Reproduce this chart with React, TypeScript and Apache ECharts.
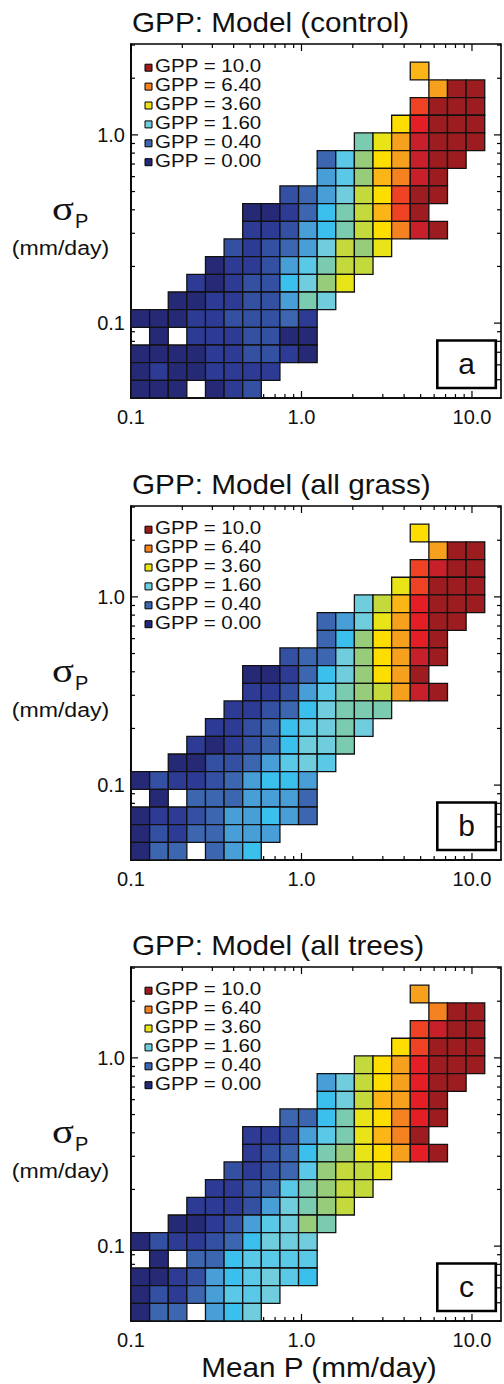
import React, { useEffect, useRef } from 'react';
import * as echarts from 'echarts';

// ---------- data ----------
const TITLES = ['GPP: Model (control)', 'GPP: Model (all grass)', 'GPP: Model (all trees)'];
const TAGS = ['a', 'b', 'c'];

// bin edges of mean P (mm/day) and sigma_P (mm/day)
const X_EDGES = [0.1, 0.1286, 0.1654, 0.2126, 0.2734, 0.3516, 0.452, 0.5812, 0.7474, 0.9612, 1.236, 1.589, 2.043, 2.628, 3.379, 4.345, 5.587, 7.184, 9.239, 11.88];
const Y_EDGES = [0.04, 0.04965, 0.06163, 0.0765, 0.09497, 0.1179, 0.1463, 0.1816, 0.2255, 0.2799, 0.3475, 0.4313, 0.5354, 0.6646, 0.8251, 1.0245, 1.2718, 1.5787, 1.9597, 2.4328];

// GPP value of each colour class (class code 0-9, a-j)
const GPP_CLASS_VALUES = [0.0, 0.06, 0.17, 0.34, 0.56, 0.84, 1.17, 1.56, 2.0, 2.5, 3.05, 3.66, 4.33, 5.05, 5.82, 6.66, 7.54, 8.48, 9.48, 10.0];

// rows from top (largest sigma_P) to bottom, columns from P = 0.1 upward; '.' = no data
const GPP_CONTROL = [
  '...............d...',
  '................ejj',
  '...............gjjj',
  '..............chjjj',
  '............8beijjj',
  '..........369ceijj.',
  '..........469dfij..',
  '........2347acgjj..',
  '......001358adgj...',
  '......112458acfij..',
  '.....212347a9b.....',
  '....0112468aa......',
  '...10122579b.......',
  '..001122487........',
  '0001122231.........',
  '.0.1112200.........',
  '0000112210.........',
  '01001111...........',
  '000.012............',
];
const GPP_ALL_GRASS = [
  '...............c...',
  '................ejj',
  '...............gijj',
  '..............bgjjj',
  '............7adhjjj',
  '..........347behjj.',
  '..........359cehj..',
  '........23379ceij..',
  '......0013579cej...',
  '......1124689aeij..',
  '.....112357888.....',
  '....112356787......',
  '...101235778.......',
  '..002234676........',
  '0211234554.........',
  '.0.3334443.........',
  '0112344543.........',
  '02133444...........',
  '033.345............',
];
const GPP_ALL_TREES = [
  '...............e...',
  '................fjj',
  '...............gijj',
  '..............cgjjj',
  '............acehjjj',
  '..........47acehjj.',
  '..........57adehj..',
  '........3358bcfhj..',
  '......112468bdfj...',
  '......123589bcehj..',
  '.....212369aab.....',
  '....1123689aa......',
  '...11124789a.......',
  '..001246798........',
  '0211235777.........',
  '.0.3356666.........',
  '0012456765.........',
  '02134667...........',
  '033.457............',
];
const PANEL_DATA = [GPP_CONTROL, GPP_ALL_GRASS, GPP_ALL_TREES];

const LEGEND_VALUES = [10.0, 6.4, 3.6, 1.6, 0.4, 0.0];
const LEGEND_LABELS = ['GPP = 10.0', 'GPP = 6.40', 'GPP = 3.60', 'GPP = 1.60', 'GPP = 0.40', 'GPP = 0.00'];

const X_MIN = 0.1, X_MAX = 14.8, Y_MIN = 0.04, Y_MAX = 3.04;
const X_MAJOR = [0.1, 1, 10];
const X_MAJOR_LABELS = ['0.1', '1.0', '10.0'];
const X_MINOR = [0.2, 0.3, 0.4, 0.5, 0.6, 0.7, 0.8, 0.9, 2, 3, 4, 5, 6, 7, 8, 9];
const Y_MAJOR = [0.1, 1];
const Y_MAJOR_LABELS = ['0.1', '1.0'];
const Y_MINOR = [0.05, 0.06, 0.07, 0.08, 0.09, 0.2, 0.3, 0.4, 0.5, 0.6, 0.7, 0.8, 0.9, 2, 3];

// ---------- styles ----------
const GPP_MAX = 10;
const COLORS = ['#262a76', '#2d3b95', '#3450a3', '#3d66b0', '#489fd8', '#3bc0ee', '#5ac9e8', '#70cddd', '#7bcbb0', '#96cc7a', '#c4da3c', '#e8e418', '#fedd00', '#fbb517', '#f7a01e', '#f58220', '#ef4224', '#e31e25', '#c8202a', '#9c1c1f'];
const SANS = '"Liberation Sans", Arial, Helvetica, sans-serif';
const SERIF = '"Liberation Serif", "Times New Roman", serif';
const INK = '#111';
const OFFSETS = [0, 462, 923];
const GRID_LEFT = 131, GRID_TOP = 44, GRID_W = 372, GRID_H = 354;

function gppColor(v: number) {
  const n = COLORS.length - 1;
  const k = Math.max(0, Math.min(n, Math.floor(n * Math.sqrt(Math.max(0, v) / GPP_MAX) + 1e-6)));
  return COLORS[k];
}

function cellsFrom(rows: string[]) {
  const out: number[][] = [];
  const n = rows.length;
  rows.forEach((row, i) => {
    const r = n - 1 - i;
    for (let c = 0; c < row.length; c++) {
      const ch = row[c];
      if (ch === '.') continue;
      const g = GPP_CLASS_VALUES[parseInt(ch, 36)];
      out.push([X_EDGES[c], X_EDGES[c + 1], Y_EDGES[r], Y_EDGES[r + 1], g]);
    }
  });
  return out;
}

function labelFor(v: number, majors: number[], labels: string[]) {
  for (let i = 0; i < majors.length; i++) {
    if (Math.abs(v / majors[i] - 1) < 1e-6) return labels[i];
  }
  return '';
}

function txt(x: number, y: number, text: string, fontSize: number, align: string, extra: any = {}, family = SANS) {
  return {
    type: 'text', x, y, z: 10, ...extra,
    style: { text, fontSize, fontFamily: family, fill: INK, align, verticalAlign: 'middle', textAlign: align, textVerticalAlign: 'middle' },
  };
}

function buildOption() {
  const grid: any[] = [];
  const xAxis: any[] = [];
  const yAxis: any[] = [];
  const series: any[] = [];
  const graphic: any[] = [];

  OFFSETS.forEach((o, p) => {
    grid.push({ left: GRID_LEFT, top: GRID_TOP + o, width: GRID_W, height: GRID_H, show: true, borderColor: '#000', borderWidth: 1.6, backgroundColor: 'rgba(0,0,0,0)' });
    xAxis.push({
      type: 'log', logBase: 10, gridIndex: p, min: X_MIN, max: X_MAX,
      axisLine: { show: true, lineStyle: { color: '#000', width: 1.6 } },
      axisTick: { show: false }, splitLine: { show: false }, minorTick: { show: false },
      axisLabel: {
        show: true, margin: 9, fontSize: 20, fontFamily: SANS, color: INK, showMinLabel: true, showMaxLabel: true,
        formatter: (v: number) => labelFor(v, X_MAJOR, X_MAJOR_LABELS),
      },
    });
    yAxis.push({
      type: 'log', logBase: 10, gridIndex: p, min: Y_MIN, max: Y_MAX,
      axisLine: { show: true, lineStyle: { color: '#000', width: 1.6 } },
      axisTick: { show: false }, splitLine: { show: false }, minorTick: { show: false },
      axisLabel: {
        show: true, margin: 6, fontSize: 20, fontFamily: SANS, color: INK, showMinLabel: true, showMaxLabel: true,
        formatter: (v: number) => labelFor(v, Y_MAJOR, Y_MAJOR_LABELS),
      },
    });

    // x ticks (bottom and top, pointing inward)
    series.push({
      type: 'custom', xAxisIndex: p, yAxisIndex: p, z: 1, silent: true,
      encode: { x: 0, y: 1 },
      data: [...X_MAJOR.map((v) => [v, 1, 1]), ...X_MINOR.map((v) => [v, 1, 0])],
      renderItem: (params: any, api: any) => {
        const cs = params.coordSys;
        const px = api.coord([api.value(0), 1])[0];
        const len = api.value(2) === 1 ? 7 : 4;
        const st = { stroke: '#000', lineWidth: 1.2 };
        return {
          type: 'group',
          children: [
            { type: 'line', shape: { x1: px, y1: cs.y + cs.height, x2: px, y2: cs.y + cs.height - len }, style: st },
            { type: 'line', shape: { x1: px, y1: cs.y, x2: px, y2: cs.y + len }, style: st },
          ],
        };
      },
    });
    // y ticks (left and right, pointing inward)
    series.push({
      type: 'custom', xAxisIndex: p, yAxisIndex: p, z: 1, silent: true,
      encode: { x: 0, y: 1 },
      data: [...Y_MAJOR.map((v) => [1, v, 1]), ...Y_MINOR.map((v) => [1, v, 0])],
      renderItem: (params: any, api: any) => {
        const cs = params.coordSys;
        const py = api.coord([1, api.value(1)])[1];
        const len = api.value(2) === 1 ? 7 : 4;
        const st = { stroke: '#000', lineWidth: 1.2 };
        return {
          type: 'group',
          children: [
            { type: 'line', shape: { x1: cs.x, y1: py, x2: cs.x + len, y2: py }, style: st },
            { type: 'line', shape: { x1: cs.x + cs.width, y1: py, x2: cs.x + cs.width - len, y2: py }, style: st },
          ],
        };
      },
    });
    // cells
    series.push({
      type: 'custom', xAxisIndex: p, yAxisIndex: p, z: 3, silent: true,
      encode: { x: [0, 1], y: [2, 3] },
      data: cellsFrom(PANEL_DATA[p]),
      renderItem: (params: any, api: any) => {
        const p0 = api.coord([api.value(0), api.value(2)]);
        const p1 = api.coord([api.value(1), api.value(3)]);
        return {
          type: 'rect',
          shape: { x: p0[0], y: p1[1], width: p1[0] - p0[0], height: p0[1] - p1[1] },
          style: { fill: gppColor(api.value(4)), stroke: '#111', lineWidth: 1.3 },
        };
      },
    });

    // title
    graphic.push(txt(132, 22 + o, TITLES[p], 27, 'left', { scaleX: 1.1 }));
    // legend
    LEGEND_VALUES.forEach((v, i) => {
      const cy = 65.7 + 18.9 * i + o;
      graphic.push({ type: 'rect', z: 10, shape: { x: 145, y: cy - 1.5, width: 7, height: 7 }, style: { fill: gppColor(v), stroke: '#000', lineWidth: 1 } });
      graphic.push(txt(155, cy, LEGEND_LABELS[i], 19, 'left', { scaleX: 1.08 }));
    });
    // panel tag box
    graphic.push({ type: 'rect', z: 10, shape: { x: 437.3, y: 340.5 + o, width: 58.5, height: 47.5 }, style: { fill: '#fff', stroke: '#000', lineWidth: 2.6 } });
    graphic.push(txt(466.6, 363.5 + o, TAGS[p], 30, 'center', { z: 11 }));
    // y axis title: sigma_P (mm/day)
    graphic.push(txt(52, 209 + o, 'σ', 34, 'left', { scaleX: 1.2 }, SERIF));
    graphic.push(txt(75, 220.5 + o, 'P', 20, 'left'));
    graphic.push(txt(60.5, 247.5 + o, '(mm/day)', 21, 'center', { scaleX: 1.1 }));
  });

  // x axis title (bottom panel only)
  graphic.push(txt(319, 1367, 'Mean P (mm/day)', 27, 'center', { scaleX: 1.1 }));

  return { animation: false, backgroundColor: '#fff', grid, xAxis, yAxis, series, graphic };
}

export default function App() {
  const ref = useRef<HTMLDivElement>(null);
  useEffect(() => {
    if (!ref.current) return;
    const chart = echarts.init(ref.current, undefined, { renderer: 'svg' });
    chart.setOption(buildOption() as any);
    return () => chart.dispose();
  }, []);
  return <div ref={ref} style={{ position: 'absolute', left: 0, top: 0, width: 504, height: 1384, background: '#fff' }} />;
}
